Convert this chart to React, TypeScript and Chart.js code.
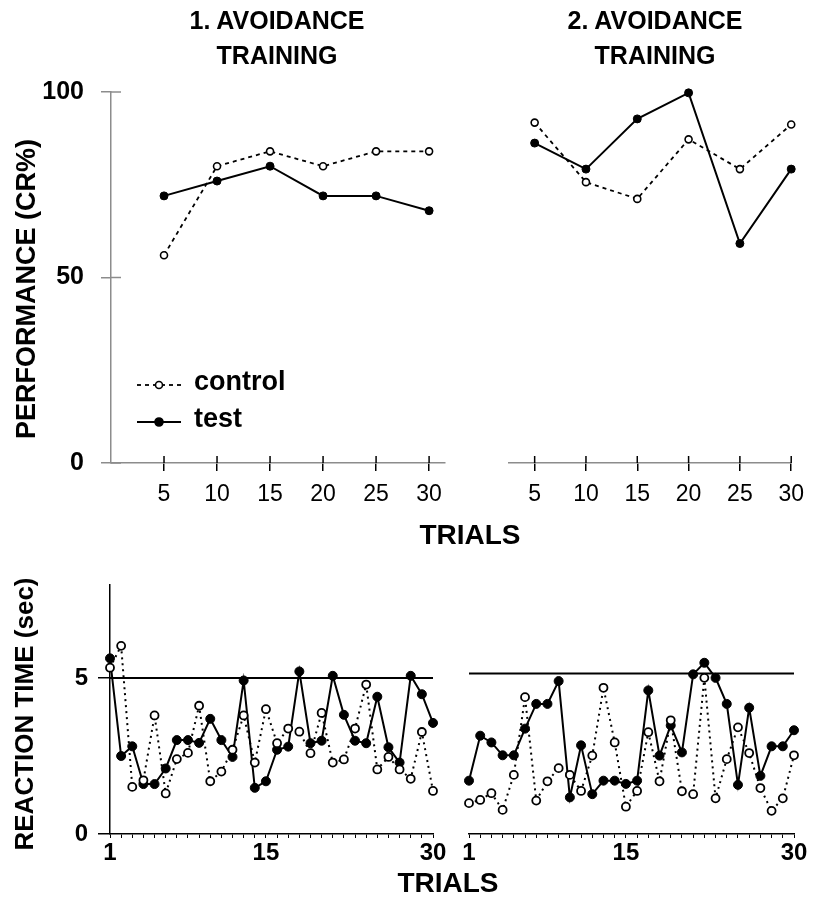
import React, { useEffect, useRef } from 'react';
import { Chart, registerables } from 'chart.js';

Chart.register(...registerables);

const FONT = '"Liberation Sans", Arial, Helvetica, sans-serif';

// ---------- Data ----------
const perfTrials = [5, 10, 15, 20, 25, 30];
const perfTicksY = [0, 50, 100];
const perf1Control = [56, 80, 84, 80, 84, 84];
const perf1Test = [72, 76, 80, 72, 72, 68];
const perf2Control = [91.5, 75.5, 71, 87, 79, 91];
const perf2Test = [86, 79, 92.5, 99.5, 59, 79];

const rtTrials = [1, 2, 3, 4, 5, 6, 7, 8, 9, 10, 11, 12, 13, 14, 15, 16, 17, 18, 19, 20, 21, 22, 23, 24, 25, 26, 27, 28, 29, 30];
const rtTickLabels = [1, 15, 30];
const rtTicksY = [0, 5];
const rtCutoff = 5;
const rt1Control = [5.33, 6.03, 1.51, 1.72, 3.8, 1.3, 2.4, 2.6, 4.11, 1.69, 2.0, 2.7, 3.8, 2.29, 4.0, 2.91, 3.38, 3.28, 2.59, 3.88, 2.29, 2.39, 3.38, 4.79, 2.07, 2.47, 2.07, 1.77, 3.27, 1.38];
const rt1Test = [5.63, 2.5, 2.81, 1.6, 1.6, 2.1, 3.01, 3.01, 2.92, 3.69, 3.01, 2.47, 4.92, 1.48, 1.69, 2.7, 2.8, 5.21, 2.91, 2.99, 5.07, 3.82, 2.99, 2.91, 4.4, 2.78, 2.29, 5.07, 4.48, 3.56];
const rt2Control = [0.96, 1.06, 1.27, 0.75, 1.84, 4.26, 1.04, 1.64, 2.05, 1.84, 1.34, 2.44, 4.55, 2.85, 0.85, 1.34, 3.17, 1.64, 3.54, 1.33, 1.24, 4.86, 1.11, 2.33, 3.32, 2.52, 1.43, 0.72, 1.11, 2.45];
const rt2Test = [1.66, 3.06, 2.85, 2.45, 2.45, 3.28, 4.05, 4.05, 4.76, 1.14, 2.76, 1.24, 1.66, 1.66, 1.56, 1.66, 4.47, 2.44, 3.38, 2.54, 4.97, 5.33, 4.86, 4.05, 1.53, 3.93, 1.81, 2.73, 2.73, 3.23];

const legendLabels = ['control', 'test'];

const GRAY = '#8c8c8c';

function pts(xs: number[], ys: number[]) {
  return xs.map((x, i) => ({ x, y: ys[i] }));
}

function crossTicks(yInner: number, xInner: number, yColor: string) {
  return {
    id: 'crossTicks',
    afterDraw(chart: any) {
      const ctx = chart.ctx;
      const area = chart.chartArea;
      const xs = chart.scales.x;
      const ys = chart.scales.y;
      ctx.save();
      ctx.lineWidth = 1.5;
      if (ys.options.display && yInner > 0) {
        ctx.strokeStyle = yColor;
        for (const t of ys.ticks) {
          const py = ys.getPixelForValue(t.value);
          ctx.beginPath();
          ctx.moveTo(area.left, py);
          ctx.lineTo(area.left + yInner, py);
          ctx.stroke();
        }
      }
      if (xInner > 0) {
        ctx.strokeStyle = '#000';
        for (const t of xs.ticks) {
          const px = xs.getPixelForValue(t.value);
          ctx.beginPath();
          ctx.moveTo(px, area.bottom);
          ctx.lineTo(px, area.bottom - xInner);
          ctx.stroke();
        }
      }
      ctx.restore();
    },
  };
}

// legend drawn in canvas coords of the top-left chart (canvas top = 60)
const legendPlugin = {
  id: 'legendInside',
  afterDraw(chart: any) {
    const ctx = chart.ctx;
    ctx.save();
    const rows = [
      { y: 325, dash: [4, 4], fill: '#fff', r: 3.5, lw: 1.8 },
      { y: 362, dash: [], fill: '#000', r: 4, lw: 2 },
    ];
    rows.forEach((row, i) => {
      ctx.setLineDash(row.dash);
      ctx.strokeStyle = '#000';
      ctx.lineWidth = row.lw;
      ctx.beginPath();
      ctx.moveTo(137, row.y);
      ctx.lineTo(181, row.y);
      ctx.stroke();
      ctx.setLineDash([]);
      ctx.beginPath();
      ctx.arc(159, row.y, row.r, 0, Math.PI * 2);
      ctx.fillStyle = row.fill;
      ctx.fill();
      ctx.lineWidth = 1.6;
      ctx.stroke();
      ctx.fillStyle = '#000';
      ctx.font = `bold 27px ${FONT}`;
      ctx.textBaseline = 'middle';
      ctx.textAlign = 'left';
      ctx.fillText(legendLabels[i], 194, row.y - 2);
    });
    ctx.restore();
  },
};

function perfConfig(control: number[], test: number[], o: { xMin: number; xMax: number; showY: boolean; padLeft: number; padRight: number; legend: boolean }) {
  return {
    type: 'line',
    data: {
      datasets: [
        {
          label: 'control',
          data: pts(perfTrials, control),
          borderColor: '#000',
          borderWidth: 1.8,
          borderDash: [4, 4],
          pointRadius: 3.5,
          pointBackgroundColor: '#fff',
          pointBorderColor: '#000',
          pointBorderWidth: 1.6,
          clip: false,
        },
        {
          label: 'test',
          data: pts(perfTrials, test),
          borderColor: '#000',
          borderWidth: 2,
          pointRadius: 4,
          pointBackgroundColor: '#000',
          pointBorderColor: '#000',
          pointBorderWidth: 1,
          clip: false,
        },
      ],
    },
    options: {
      responsive: false,
      animation: false,
      devicePixelRatio: 1,
      layout: { padding: { top: 31, left: o.padLeft, right: o.padRight, bottom: 0 } },
      plugins: { legend: { display: false }, tooltip: { enabled: false } },
      scales: {
        x: {
          type: 'linear',
          min: o.xMin,
          max: o.xMax,
          afterFit: (s: any) => { s.height = 77; },
          afterBuildTicks: (s: any) => { s.ticks = perfTrials.map((v) => ({ value: v })); },
          grid: { drawOnChartArea: false, drawTicks: true, tickLength: 8, color: '#000', lineWidth: 1.5 },
          border: { display: true, color: GRAY, width: 1.5 },
          ticks: { font: { family: FONT, size: 23 }, color: '#000', padding: 10, maxRotation: 0, autoSkip: false },
        },
        y: {
          display: o.showY,
          min: 0,
          max: 100,
          afterFit: (s: any) => { s.width = o.showY ? 111 : 0; },
          afterBuildTicks: (s: any) => { s.ticks = perfTicksY.map((v) => ({ value: v })); },
          grid: { drawOnChartArea: false, drawTicks: true, tickLength: 10, color: GRAY, lineWidth: 1.5 },
          border: { display: true, color: GRAY, width: 1.5 },
          ticks: { font: { family: FONT, size: 25, weight: 'bold' }, color: '#000', padding: 17 },
        },
      },
    },
    plugins: o.legend ? [crossTicks(10, 7, GRAY), legendPlugin] : [crossTicks(10, 7, GRAY)],
  };
}

function rtConfig(control: number[], test: number[], o: { showY: boolean; padLeft: number; padRight: number }) {
  return {
    type: 'line',
    data: {
      datasets: [
        {
          label: 'control',
          data: pts(rtTrials, control),
          borderColor: '#000',
          borderWidth: 2,
          borderDash: [2, 4],
          pointRadius: 4,
          pointBackgroundColor: '#fff',
          pointBorderColor: '#000',
          pointBorderWidth: 1.8,
          clip: false,
        },
        {
          label: 'test',
          data: pts(rtTrials, test),
          borderColor: '#000',
          borderWidth: 2,
          pointRadius: 4.5,
          pointBackgroundColor: '#000',
          pointBorderColor: '#000',
          pointBorderWidth: 1,
          clip: false,
        },
        {
          label: 'cutoff',
          data: [
            { x: rtTrials[0], y: rtCutoff },
            { x: rtTrials[rtTrials.length - 1], y: rtCutoff },
          ],
          borderColor: '#000',
          borderWidth: 2,
          pointRadius: 0,
          clip: false,
        },
      ],
    },
    options: {
      responsive: false,
      animation: false,
      devicePixelRatio: 1,
      layout: { padding: { top: 17, left: o.padLeft, right: o.padRight, bottom: 0 } },
      plugins: { legend: { display: false }, tooltip: { enabled: false } },
      scales: {
        x: {
          type: 'linear',
          min: rtTrials[0],
          max: rtTrials[rtTrials.length - 1],
          afterFit: (s: any) => { s.height = 67; },
          afterBuildTicks: (s: any) => { s.ticks = rtTrials.map((v) => ({ value: v })); },
          grid: { drawOnChartArea: false, drawTicks: true, tickLength: 4, color: '#000', lineWidth: 1 },
          border: { display: true, color: '#000', width: 1.5 },
          ticks: {
            font: { family: FONT, size: 24, weight: 'bold' },
            color: '#000',
            padding: 1,
            maxRotation: 0,
            autoSkip: false,
            callback: (v: any) => (rtTickLabels.includes(Number(v)) ? String(v) : ''),
          },
        },
        y: {
          display: o.showY,
          min: 0,
          max: 8,
          afterFit: (s: any) => { s.width = o.showY ? 110 : 0; },
          afterBuildTicks: (s: any) => { s.ticks = rtTicksY.map((v) => ({ value: v })); },
          grid: { drawOnChartArea: false, drawTicks: true, tickLength: 12, color: '#000', lineWidth: 1.5 },
          border: { display: true, color: '#000', width: 1.5 },
          ticks: { font: { family: FONT, size: 24, weight: 'bold' }, color: '#000', padding: 10 },
        },
      },
    },
    plugins: [crossTicks(0, 0, '#000')],
  };
}

function ChartCanvas(props: { left: number; top: number; width: number; height: number; make: () => any }) {
  const ref = useRef<HTMLCanvasElement>(null);
  useEffect(() => {
    const chart = new Chart(ref.current as HTMLCanvasElement, props.make());
    return () => chart.destroy();
  }, []);
  return (
    <canvas
      ref={ref}
      width={props.width}
      height={props.height}
      style={{ position: 'absolute', left: props.left, top: props.top, width: props.width, height: props.height }}
    />
  );
}

function Title(props: { cx: number; lines: string[] }) {
  return (
    <div
      style={{
        position: 'absolute',
        left: props.cx - 150,
        top: 3,
        width: 300,
        textAlign: 'center',
        fontFamily: FONT,
        fontWeight: 'bold',
        fontSize: 25,
        lineHeight: '35px',
      }}
    >
      {props.lines.map((l, i) => (
        <div key={i}>{l}</div>
      ))}
    </div>
  );
}

function Label(props: { cx: number; cy: number; text: string; size: number; rotate?: boolean }) {
  return (
    <div
      style={{
        position: 'absolute',
        left: props.cx,
        top: props.cy,
        transform: `translate(-50%, -50%)${props.rotate ? ' rotate(-90deg)' : ''}`,
        whiteSpace: 'nowrap',
        fontFamily: FONT,
        fontWeight: 'bold',
        fontSize: props.size,
        lineHeight: 1,
      }}
    >
      {props.text}
    </div>
  );
}

export default function App() {
  return (
    <div style={{ position: 'absolute', left: 0, top: 0, width: 814, height: 901, background: '#fff', color: '#000', overflow: 'hidden' }}>
      <ChartCanvas
        left={0}
        top={60}
        width={455}
        height={480}
        make={() => perfConfig(perf1Control, perf1Test, { xMin: 0, xMax: 31.5, showY: true, padLeft: 0, padRight: 10, legend: true })}
      />
      <ChartCanvas
        left={460}
        top={60}
        width={354}
        height={480}
        make={() => perfConfig(perf2Control, perf2Test, { xMin: 2.5, xMax: 30, showY: false, padLeft: 49, padRight: 13, legend: false })}
      />
      <ChartCanvas
        left={0}
        top={560}
        width={455}
        height={341}
        make={() => rtConfig(rt1Control, rt1Test, { showY: true, padLeft: 0, padRight: 22 })}
      />
      <ChartCanvas
        left={455}
        top={560}
        width={359}
        height={341}
        make={() => rtConfig(rt2Control, rt2Test, { showY: false, padLeft: 14, padRight: 20 })}
      />
      <Title cx={277} lines={['1. AVOIDANCE', 'TRAINING']} />
      <Title cx={655} lines={['2. AVOIDANCE', 'TRAINING']} />
      <Label cx={26} cy={289} text="PERFORMANCE (CR%)" size={27} rotate />
      <Label cx={24} cy={714} text="REACTION TIME (sec)" size={26} rotate />
      <Label cx={470} cy={535} text="TRIALS" size={28} />
      <Label cx={448} cy={883} text="TRIALS" size={28} />
    </div>
  );
}
